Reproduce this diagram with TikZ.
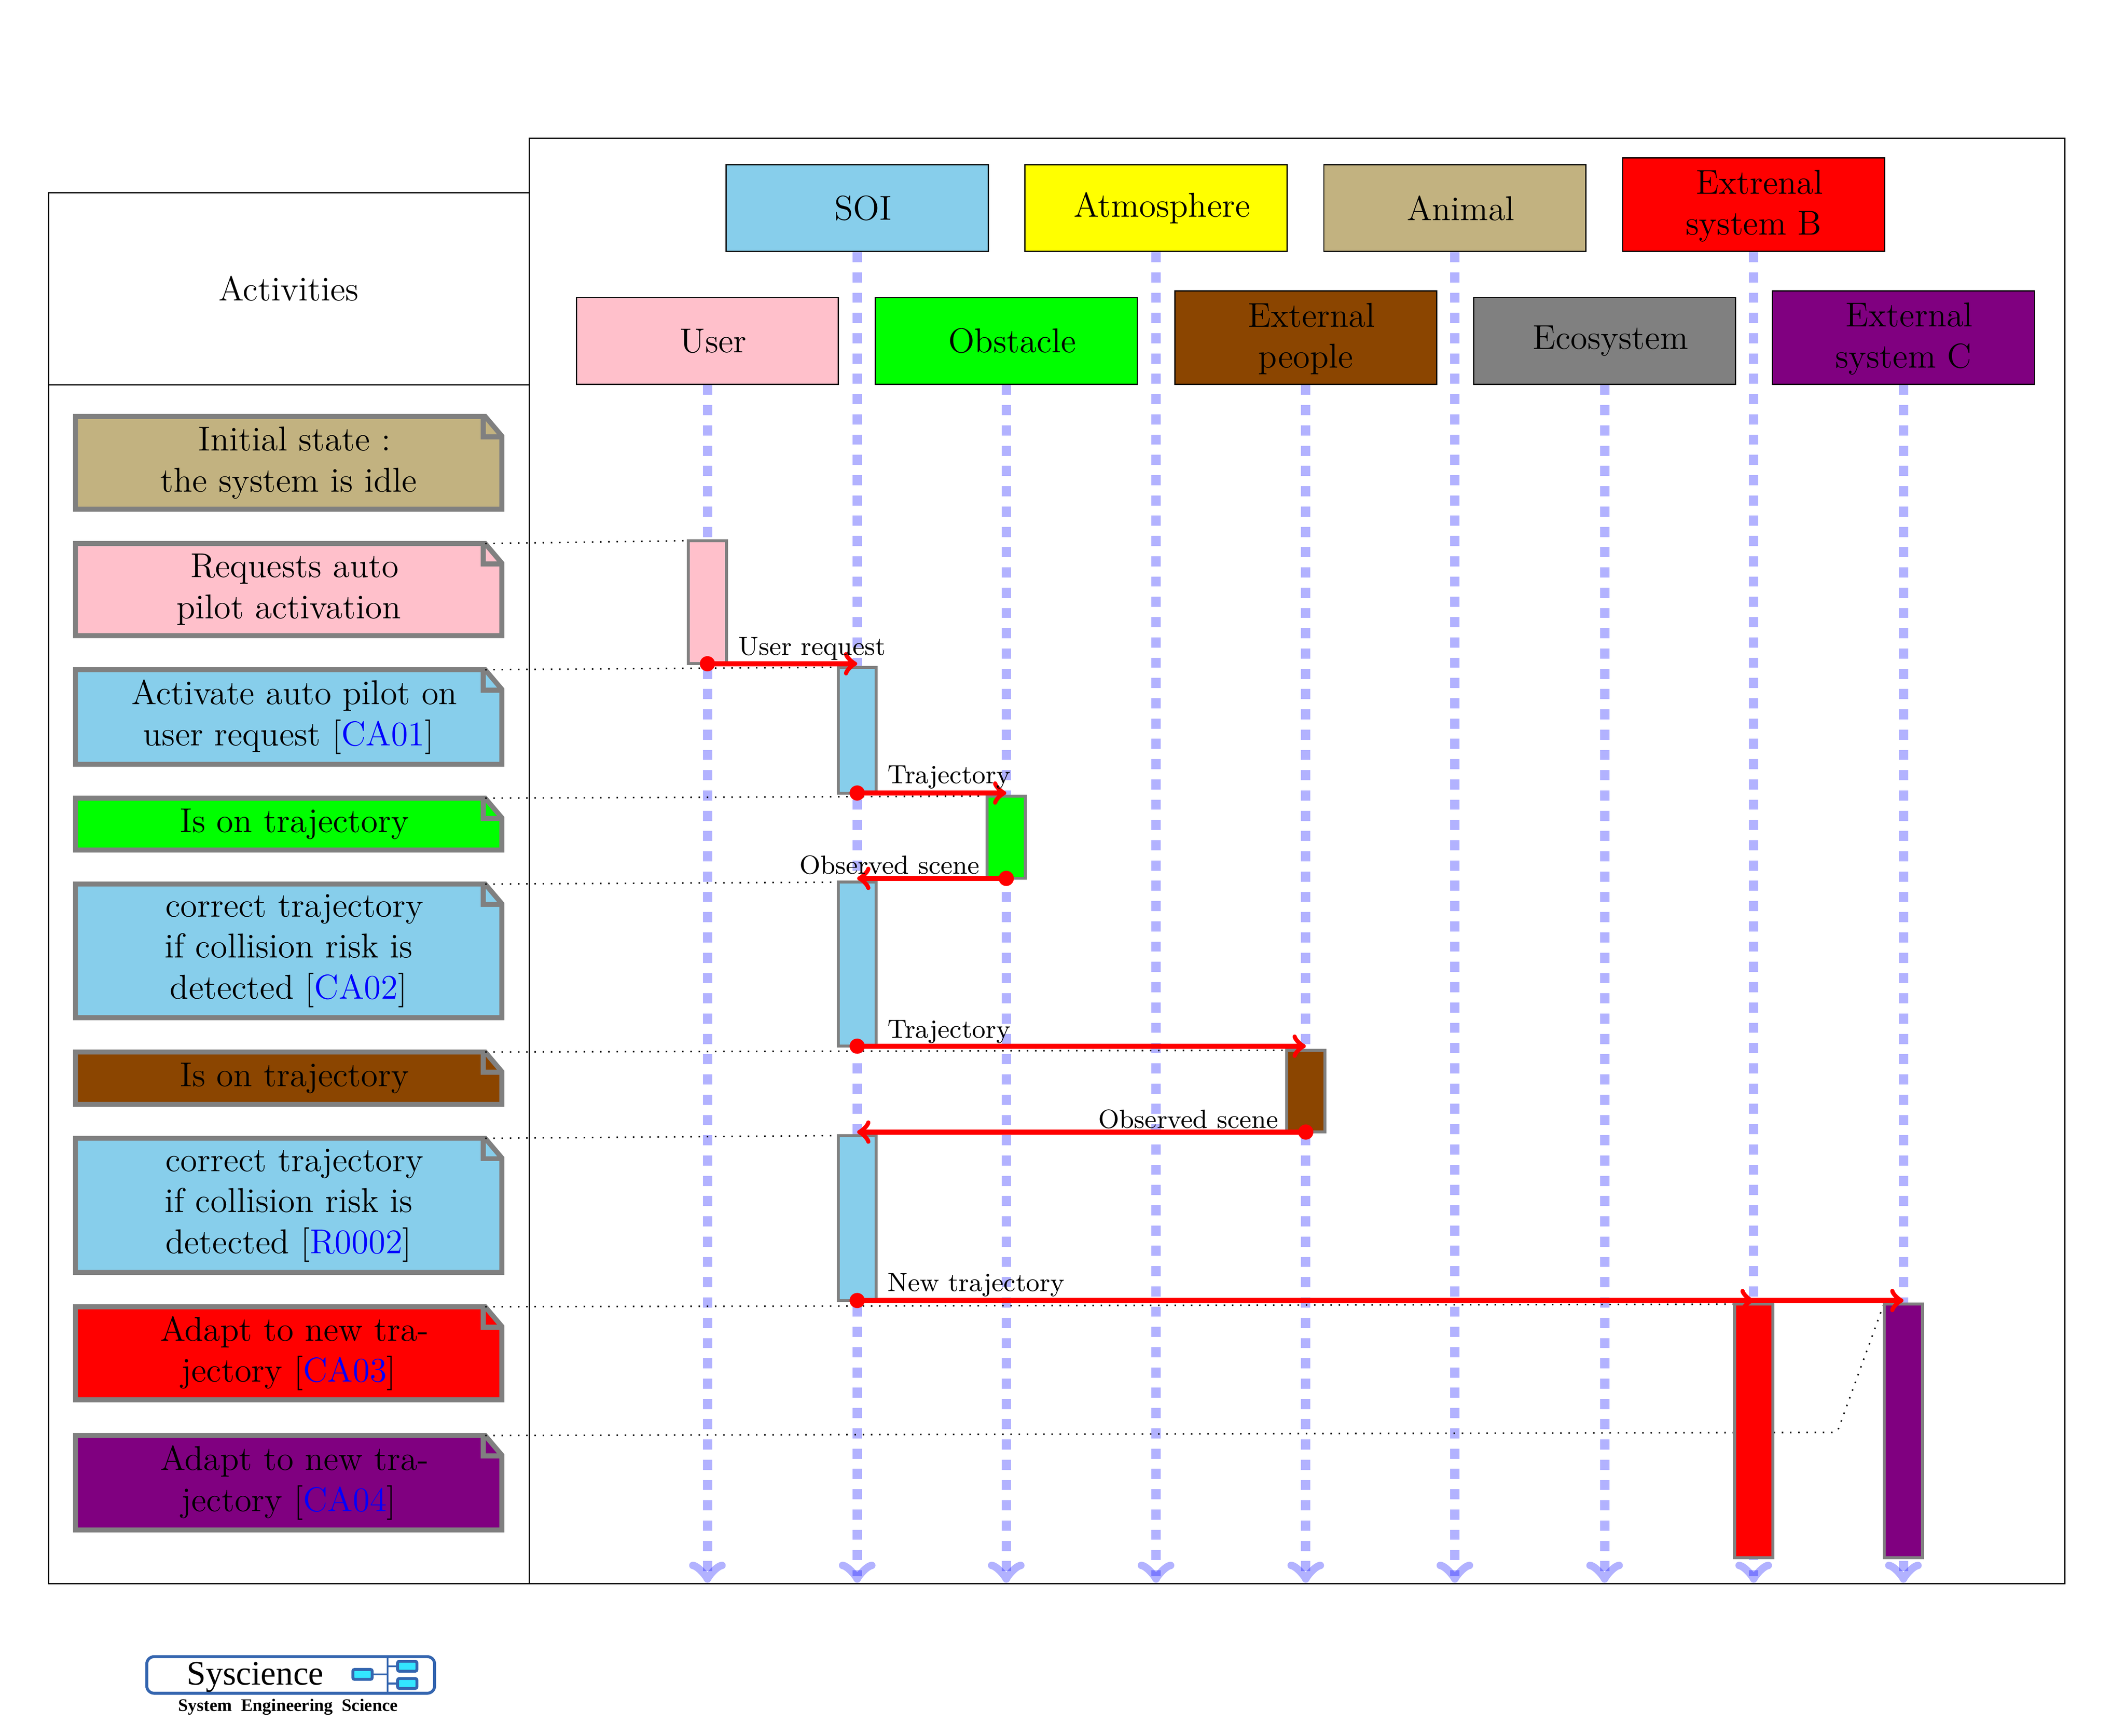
\documentclass[tikz,border=0pt]{standalone}
\usepackage{fontspec}
\newfontfamily\logofont{Liberation Serif}
\usetikzlibrary{calc}
\definecolor{cpink}{HTML}{FFC0CB}
\definecolor{csky}{HTML}{87CEEB}
\definecolor{ctan}{HTML}{C2B280}
\definecolor{cbrown}{HTML}{8B4500}
\definecolor{cpurple}{HTML}{800080}
\definecolor{cyellow}{HTML}{FFFF00}
\definecolor{cgreen}{HTML}{00FF00}
\definecolor{cred}{HTML}{FF0000}
\definecolor{cgray}{HTML}{808080}
\definecolor{cblue}{HTML}{0000FF}
\definecolor{logoline}{HTML}{3465AF}
\definecolor{logofill}{HTML}{33E6FF}
\newcommand{\mainsize}{\fontsize{11.77}{14}\selectfont}
\newcommand{\labelsize}{\fontsize{8.95}{11}\selectfont}
\newcommand{\toplift}{\rule{0pt}{9pt}}
\tikzset{
  x=0.4624pt,y=-0.4624pt,
  actor/.style={draw=black,line width=0.4pt,anchor=south,minimum width=89.4pt,minimum height=29.6pt,inner sep=1pt,align=center,font=\mainsize},
  actortwo/.style={actor,minimum height=31.9pt},
  lifeline/.style={draw=cblue,draw opacity=0.3,fill opacity=0.3,line width=3.2pt,dash pattern=on 3.46pt off 3.46pt,->},
  bar/.style={draw=cgray,line width=1pt,anchor=north,inner sep=0pt,outer sep=0pt,minimum width=13pt},
  notebody/.style={draw=cgray,line width=1.7pt,line join=miter},
  notetext/.style={align=center,font=\mainsize,inner sep=0pt},
  msg/.style={draw=cred,line width=1.8pt,->},
  dotlink/.style={draw=black,line width=0.5pt,dash pattern=on 0.5pt off 2.3pt},
  msglabel/.style={font=\labelsize,inner sep=0pt,anchor=base west},
  logobox/.style={draw=logoline,fill=logofill,line width=1pt,rounded corners=0.6pt},
  logoline/.style={draw=logoline,line width=1pt}
}
\newcommand{\notebox}[5]{% name, ytop, ybot, colour, text
  \fill[#4] (55.7,#2) -- (358,#2) -- (370.3,#2+14.5) -- (370.3,#3) -- (55.7,#3) -- cycle;
  \draw[notebody] (55.7,#2) -- (358,#2) -- (370.3,#2+14.5) -- (370.3,#3) -- (55.7,#3) -- cycle;
  \draw[notebody] (356.5,#2) -- (356.5,#2+15) -- (370.3,#2+15);
  \coordinate (#1c) at (358,#2);
  \node[notetext] (#1) at (213,{(#2+#3)/2}) {#5};
}
\newcommand{\barnode}[5]{% name, x, ytop, ybot, colour
  \node[bar,fill=#5,minimum height={(#4-#3)*0.4624pt}] (#1) at (#2,#3) {};
}
\newcommand{\ca}[1]{[\textcolor{cblue}{#1}]}
\begin{document}
\begin{tikzpicture}
\useasboundingbox (0,0) rectangle (1568,1281);
% frames
\draw[line width=0.4pt] (35.8,142.2) rectangle (390.6,1168.6);
\draw[line width=0.4pt] (35.8,284) -- (390.6,284);
\draw[line width=0.4pt] (390.6,102.1) rectangle (1523.5,1168.6);
\node[font=\mainsize,inner sep=0pt] (activities) at (213,213) {Activities};
% actors
\node[actor,fill=csky] (soi) at (632.5,186) {\hspace*{4pt}SOI};
\node[actor,fill=cyellow] (atm) at (853,186) {\hspace*{4pt}Atmosphere};
\node[actor,fill=ctan] (animal) at (1073.5,186) {\hspace*{4pt}Animal};
\node[actortwo,fill=cred] (extb) at (1294,186) {\toplift\hspace*{4pt}Extrenal\\system B};
\node[actor,fill=cpink] (user) at (522,284) {\hspace*{4pt}User};
\node[actor,fill=cgreen] (obs) at (742.5,284) {\hspace*{4pt}Obstacle};
\node[actortwo,fill=cbrown] (extp) at (963.5,284) {\toplift\hspace*{4pt}External\\people};
\node[actor,fill=cgray] (eco) at (1184,284) {\hspace*{4pt}Ecosystem};
\node[actortwo,fill=cpurple] (extc) at (1404.5,284) {\toplift\hspace*{4pt}External\\system C};
% lifeline ends
\foreach \n in {user,soi,obs,atm,extp,animal,eco,extb,extc}
  \coordinate (\n e) at (\n.south |- 0,1168);
\foreach \n in {user,soi,obs,atm,extp,animal,eco,extb,extc}
  \draw[lifeline] (\n.south) -- (\n e);
% notes
\notebox{n1}{307.3}{375.8}{ctan}{\hspace*{4pt}Initial state :\\the system is idle}
\notebox{n2}{401.1}{469.1}{cpink}{\hspace*{4pt}Requests auto\\pilot activation}
\notebox{n3}{494.2}{564}{csky}{\hspace*{4pt}Activate auto pilot on\\user request \ca{CA01}}
\notebox{n4}{589}{627.3}{cgreen}{\hspace*{4pt}Is on trajectory}
\notebox{n5}{652.4}{751}{csky}{\hspace*{4pt}correct trajectory\\if collision risk is\\detected \ca{CA02}}
\notebox{n6}{776.3}{815}{cbrown}{\hspace*{4pt}Is on trajectory}
\notebox{n7}{840}{939}{csky}{\hspace*{4pt}correct trajectory\\if collision risk is\\detected \ca{R0002}}
\notebox{n8}{964.3}{1033}{cred}{\hspace*{4pt}Adapt to new tra-\\jectory \ca{CA03}}
\notebox{n9}{1059.3}{1129}{cpurple}{\hspace*{4pt}Adapt to new tra-\\jectory \ca{CA04}}
% dotted link ends
\coordinate (d2) at (508,399);
\coordinate (d3) at (618.5,492.4);
\coordinate (d4) at (728.5,587.5);
\coordinate (d5) at (618.5,651);
\coordinate (d6) at (949.5,775);
\coordinate (d7) at (618.5,838);
\coordinate (d8) at (1280,962.4);
\coordinate (d9a) at (1355.6,1057);
\coordinate (d9b) at (1390,962.4);
\draw[dotlink] (n2c) -- (d2);
\draw[dotlink] (n3c) -- (d3);
\draw[dotlink] (n4c) -- (d4);
\draw[dotlink] (n5c) -- (d5);
\draw[dotlink] (n6c) -- (d6);
\draw[dotlink] (n7c) -- (d7);
\draw[dotlink] (n8c) -- (d8);
\draw[dotlink,rounded corners=1.5pt] (n9c) -- (d9a) -- (d9b);
% activity bars
\barnode{b1}{522}{399}{489.8}{cpink}
\barnode{b2}{632.5}{492.4}{585.2}{csky}
\barnode{b3}{742.5}{587.5}{648.2}{cgreen}
\barnode{b4}{632.5}{651}{772}{csky}
\barnode{b5}{963.5}{775}{835.4}{cbrown}
\barnode{b6}{632.5}{838}{959.7}{csky}
\barnode{b7}{1294}{962.4}{1149.6}{cred}
\barnode{b8}{1404.5}{962.4}{1149.6}{cpurple}
% messages
\coordinate (m1e) at (b2.north |- b1.south);
\coordinate (m2e) at (b3.north |- b2.south);
\coordinate (m3e) at (b4.north |- b3.south);
\coordinate (m4e) at (b5.north |- b4.south);
\coordinate (m5e) at (b6.north |- b5.south);
\coordinate (m6e) at (b7.north |- b6.south);
\coordinate (m7e) at (b8.north |- b6.south);
\draw[msg] (b1.south) -- (m1e);
\draw[msg] (b2.south) -- (m2e);
\draw[msg] (b3.south) -- (m3e);
\draw[msg] (b4.south) -- (m4e);
\draw[msg] (b5.south) -- (m5e);
\draw[msg] (b6.south) -- (m6e);
\draw[msg] (b6.south) -- (m7e);
\foreach \n in {b1,b2,b3,b4,b5,b6}
  \fill[cred] (\n.south) circle[radius=5.6];
\node[msglabel] (l1) at (544.5,483.4) {User request};
\node[msglabel] (l2) at (654.5,578) {Trajectory};
\node[msglabel] (l3) at (589.5,645) {Observed scene};
\node[msglabel] (l4) at (654.5,766) {Trajectory};
\node[msglabel] (l5) at (810,832.5) {Observed scene};
\node[msglabel] (l6) at (654.5,953) {New trajectory};
% logo
\draw[logoline,rounded corners=2.5pt] (108.3,1222.5) rectangle (320.7,1249.5);
\coordinate (lt) at (286,1222.5);
\coordinate (lb) at (286,1249.5);
\draw[draw=logoline,line width=0.6pt] (lt) -- (lb);
\node[logobox,minimum width=6.6pt,minimum height=3.4pt,inner sep=0pt] (lg1) at (267.5,1235.6) {};
\node[logobox,minimum width=6.6pt,minimum height=3.4pt,inner sep=0pt] (lg2) at (300.5,1229.6) {};
\node[logobox,minimum width=6.6pt,minimum height=3.4pt,inner sep=0pt] (lg3) at (300.5,1242.3) {};
\draw[logoline,line width=0.7pt] (lg1.east) -- (lg1.east -| lt);
\draw[logoline,line width=0.7pt] (lg2.west) -- (lg2.west -| lt);
\draw[logoline,line width=0.7pt] (lg3.west) -- (lg3.west -| lt);
\node[inner sep=0pt,font=\logofont\fontsize{11.7}{13}\selectfont] (logoname) at (188.3,1237.5) {Syscience};
\node[inner sep=0pt,font=\logofont\bfseries\fontsize{6}{7}\selectfont] (logosub) at (212.5,1259.5) {System\hspace{3.1pt}Engineering\hspace{3.1pt}Science};
\end{tikzpicture}
\end{document}
